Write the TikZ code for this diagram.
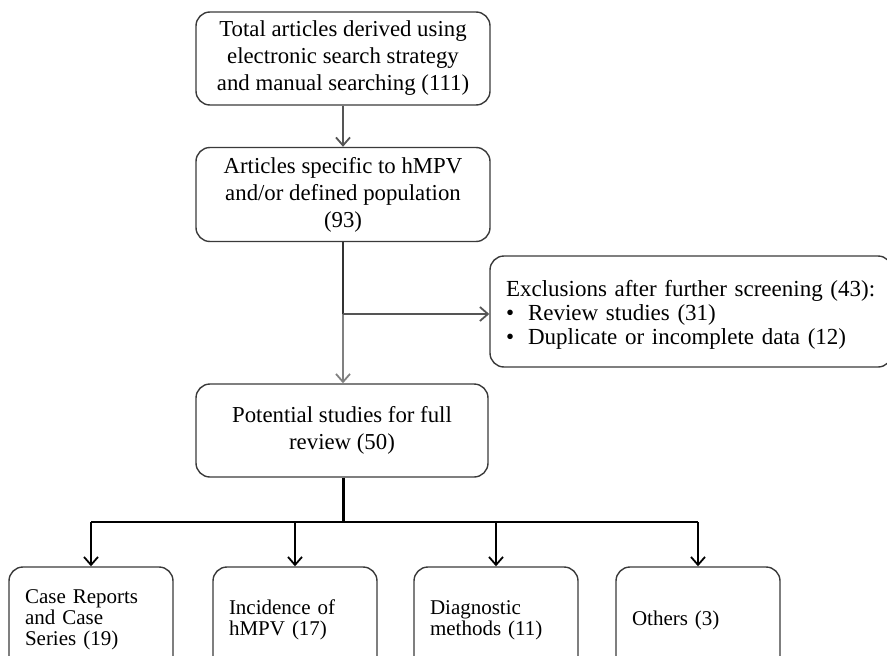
\documentclass[tikz,border=0pt]{standalone}
\usepackage{fontspec}
\setmainfont{Liberation Serif}
\usetikzlibrary{arrows.meta,positioning}
\definecolor{BoxLine}{RGB}{58,58,58}
\definecolor{LinkGray}{RGB}{85,85,85}
\tikzset{
  flowbox/.style={draw=BoxLine,rounded corners=14pt,line width=1.4pt,
    align=center,inner sep=0pt,
    font=\fontsize{22.8}{27}\selectfont},
  leafbox/.style={draw=BoxLine,rounded corners=14pt,line width=1.4pt,
    minimum width=164pt,minimum height=106pt,text width=132pt,
    align=left,inner sep=0pt,font=\fontsize{21}{21}\selectfont},
  arrow/.style={-{Straight Barb[length=8pt,width=14pt,line width=1.8pt]},
    line width=1.8pt,LinkGray},
  branch/.style={-{Straight Barb[length=8pt,width=14pt,line width=1.8pt]},
    line width=1.4pt,black}
}
\begin{document}
\begin{tikzpicture}[x=1pt,y=-1pt]
  \useasboundingbox (0,0) rectangle (887,656);
  % main column
  \node[flowbox,minimum width=294pt,minimum height=93pt] (total) at (343,58.5)
    {Total articles derived using\\electronic search strategy\\and manual searching (111)};
  \node[flowbox,minimum width=294pt,minimum height=94pt] (specific) at (343,194.5)
    {Articles specific to hMPV\\and/or defined population\\(93)};
  \node[flowbox,minimum width=292pt,minimum height=93pt] (potential) at (342,430.5)
    {Potential studies for full\\review (50)};
  % exclusions
  \node[flowbox,minimum width=402pt,minimum height=111pt,text width=370pt,
    align=left,font=\fontsize{23}{24}\selectfont] (excl) at (691,311.5)
    {\rule{0pt}{22pt}Exclusions after further screening (43):\\
     \textbullet\hspace{14pt}Review studies (31)\\
     \textbullet\hspace{14pt}Duplicate or incomplete data (12)};
  % leaves
  \node[leafbox] (cases) at (91,620) {Case Reports\\and Case\\Series (19)};
  \node[leafbox] (incid) at (295,620) {Incidence of\\hMPV (17)};
  \node[leafbox] (diag) at (496,620) {Diagnostic\\methods (11)};
  \node[leafbox] (others) at (698,620) {Others (3)};
  % links
  \coordinate (split) at (343,314);
  \coordinate (fork) at (343,522);
  \draw[arrow] (total) -- (specific);
  \draw[line width=2.2pt,black!80] (specific.south -| split) -- (split);
  \draw[arrow,line width=1.4pt,gray] (split) -- (potential.north -| split);
  \draw[branch,LinkGray] (split) -- (split -| excl.west);
  \draw[line width=3pt,black] (potential.south -| fork) -- (fork);
  \draw[line width=1.4pt] (fork -| cases.north) -- (fork -| others.north);
  \foreach \leaf in {cases,incid,diag,others}
    \draw[branch] (fork -| \leaf.north) -- (\leaf.north);
\end{tikzpicture}
\end{document}
